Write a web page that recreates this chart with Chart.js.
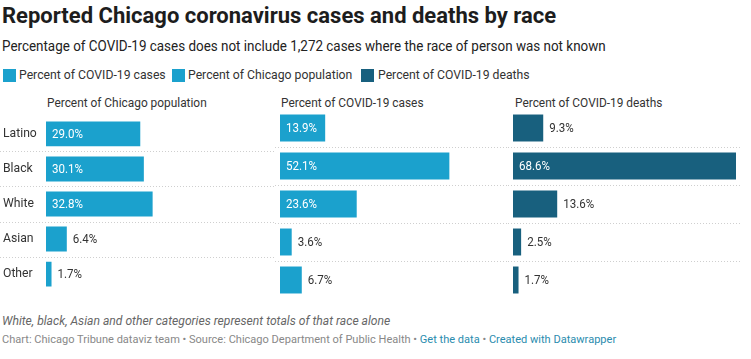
<!DOCTYPE html>
<html>
<head>
<meta charset="utf-8">
<script src="https://cdn.jsdelivr.net/npm/chart.js@4.4.1/dist/chart.umd.min.js"></script>
<style>
  html,body{margin:0;padding:0;background:#fff;}
  body{width:751px;height:359px;position:relative;overflow:hidden;font-family:Roboto,"Noto Sans",sans-serif;color:#333;}
  .abs{position:absolute;white-space:nowrap;transform-origin:0 50%;}
  #title{left:2px;top:3px;font-size:22px;font-weight:700;color:#1d1d1d;}
  #sub{left:2px;top:37px;font-size:15.5px;color:#222;transform:scaleX(0.866);}
  .sq{position:absolute;top:69px;width:13px;height:13px;}
  .leg{top:67px;font-size:13px;color:#333;transform:scaleX(0.94);}
  .hdr{top:95px;font-size:12.5px;color:#333;transform:scaleX(0.95);}
  canvas{position:absolute;}
  #note{left:2px;top:313px;font-size:12.5px;font-style:italic;color:#666;transform:scaleX(0.97);}
  #src{left:2px;top:332px;font-size:11.5px;color:#888;transform:scaleX(0.96);}
  #src a{color:#2a8cae;text-decoration:none;}
</style>
</head>
<body>
<div id="title" class="abs">Reported Chicago coronavirus cases and deaths by race</div>
<div id="sub" class="abs">Percentage of COVID-19 cases does not include 1,272 cases where the race of person was not known</div>
<div class="sq" style="left:3px;background:#1ba1cd"></div>
<div class="abs leg" style="left:19px">Percent of COVID-19 cases</div>
<div class="sq" style="left:172px;background:#1ba1cd"></div>
<div class="abs leg" style="left:188px">Percent of Chicago population</div>
<div class="sq" style="left:361px;background:#18607e"></div>
<div class="abs leg" style="left:378px">Percent of COVID-19 deaths</div>
<div class="abs hdr" style="left:47px">Percent of Chicago population</div>
<div class="abs hdr" style="left:281px">Percent of COVID-19 cases</div>
<div class="abs hdr" style="left:515px">Percent of COVID-19 deaths</div>
<canvas id="c1" width="275" height="190" style="left:0;top:109px;width:275px;height:190px"></canvas>
<canvas id="c2" width="233" height="190" style="left:275px;top:109px;width:233px;height:190px"></canvas>
<canvas id="c3" width="243" height="190" style="left:508px;top:109px;width:243px;height:190px"></canvas>
<div id="note" class="abs">White, black, Asian and other categories represent totals of that race alone</div>
<div id="src" class="abs">Chart: Chicago Tribune dataviz team • Source: Chicago Department of Public Health • <a>Get the data</a> • <a>Created with Datawrapper</a></div>
<script>
const categories = ["Latino", "Black", "White", "Asian", "Other"];
const populationPct = [29.0, 30.1, 32.8, 6.4, 1.7];
const casesPct = [13.9, 52.1, 23.6, 3.6, 6.7];
const deathsPct = [9.3, 68.6, 13.6, 2.5, 1.7];
const axisMax = 68.6;

const LIGHT = "#1ba1cd", DARK = "#18607e";

const separators = {
  id: "separators",
  beforeDatasetsDraw(chart) {
    const ctx = chart.ctx, y = chart.scales.y;
    ctx.save();
    ctx.strokeStyle = "#cfcfcf";
    ctx.lineWidth = 1;
    ctx.setLineDash([1, 2]);
    for (let i = 0; i < categories.length - 1; i++) {
      const p = Math.round((y.getPixelForValue(i) + y.getPixelForValue(i + 1)) / 2) + 0.5;
      ctx.beginPath();
      ctx.moveTo(0, p);
      ctx.lineTo(chart.width - (chart.canvas.id === "c3" ? 10 : 0), p);
      ctx.stroke();
    }
    ctx.restore();
  }
};

const valueLabels = {
  id: "valueLabels",
  afterDatasetsDraw(chart) {
    const ctx = chart.ctx;
    const meta = chart.getDatasetMeta(0);
    const data = chart.data.datasets[0].data;
    const sx = 0.89;
    ctx.save();
    ctx.font = "13px Roboto, sans-serif";
    ctx.textBaseline = "middle";
    meta.data.forEach((bar, i) => {
      const txt = data[i].toFixed(1) + "%";
      const w = ctx.measureText(txt).width * sx;
      const barW = bar.x - bar.base;
      let x;
      if (barW - w > 13.5) {
        ctx.fillStyle = "#fff";
        x = bar.base + 6;
      } else {
        ctx.fillStyle = "#333";
        x = bar.x + 6;
      }
      ctx.save();
      ctx.translate(x, bar.y + 1);
      ctx.scale(sx, 1);
      ctx.fillText(txt, 0, 0);
      ctx.restore();
    });
    ctx.restore();
  }
};

function makeChart(id, values, color, pad, showLabels) {
  return new Chart(document.getElementById(id), {
    type: "bar",
    data: {
      labels: categories,
      datasets: [{ data: values, backgroundColor: color, borderWidth: 0, categoryPercentage: 1, barPercentage: 0.71 }]
    },
    options: {
      indexAxis: "y",
      responsive: false,
      animation: false,
      layout: { padding: pad },
      plugins: { legend: { display: false }, tooltip: { enabled: false } },
      scales: {
        x: { display: false, min: 0, max: axisMax },
        y: {
          display: showLabels,
          grid: { display: false },
          border: { display: false },
          afterFit(s) { if (showLabels) s.width = 43; },
          ticks: { color: "#333", font: { size: 12.2, family: "Roboto" }, crossAlign: "far", padding: 0 }
        }
      }
    },
    plugins: [separators, valueLabels]
  });
}

makeChart("c1", populationPct, LIGHT, { left: 3, right: 6, top: 0, bottom: 0 }, true);
makeChart("c2", casesPct, LIGHT, { left: 5, right: 5, top: 0, bottom: 0 }, false);
makeChart("c3", deathsPct, DARK, { left: 5, right: 15, top: 0, bottom: 0 }, false);
</script>
</body>
</html>
